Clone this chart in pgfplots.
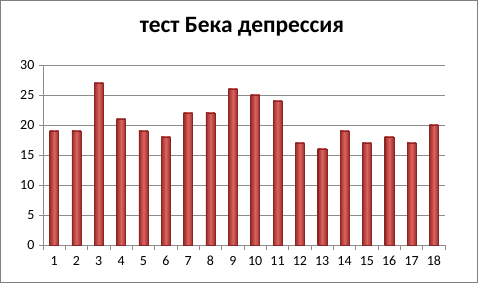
\documentclass[border=0pt]{standalone}
\usepackage{pgfplots}
\pgfplotsset{compat=1.18}
\usepackage{fontspec}
\setmainfont{Carlito}[Numbers=Lining]
\definecolor{baredge}{RGB}{155,44,42}
\definecolor{barmid}{RGB}{220,100,95}
\definecolor{barline}{RGB}{135,38,36}
\begin{document}
\begin{tikzpicture}
\begin{axis}[
  at={(0bp,0bp)}, anchor=south west,
  scale only axis, width=402bp, height=180bp,
  xmin=0.5, xmax=18.5, ymin=0, ymax=30,
  ytick={0,5,...,30}, xtick={1,...,18},
  minor xtick={0.5,1.5,...,18.5},
  ymajorgrids, grid style={black!45, line width=0.8bp},
  axis x line*=bottom, axis y line*=left,
  axis line style={black!45, line width=0.8bp, -},
  tick align=outside,
  major tick length=4bp, minor tick length=5bp,
  major x tick style={draw=none},
  minor x tick style={black!45, line width=0.8bp},
  major y tick style={black!45, line width=0.8bp},
  tick label style={font=\fontsize{14}{16}\selectfont, black},
  xticklabel style={yshift=-4bp, text height=9bp, text depth=1bp},
  yticklabel style={xshift=-1bp},
  /pgf/number format/assume math mode=true,
  ybar, bar width=9bp, bar shift=0pt,
  cyl/.style={draw=barline, line width=0.4bp, left color=baredge, right color=baredge, middle color=barmid},
]
\addplot[cyl] coordinates {(1,19)};
\addplot[cyl] coordinates {(2,19)};
\addplot[cyl] coordinates {(3,27)};
\addplot[cyl] coordinates {(4,21)};
\addplot[cyl] coordinates {(5,19)};
\addplot[cyl] coordinates {(6,18)};
\addplot[cyl] coordinates {(7,22)};
\addplot[cyl] coordinates {(8,22)};
\addplot[cyl] coordinates {(9,26)};
\addplot[cyl] coordinates {(10,25)};
\addplot[cyl] coordinates {(11,24)};
\addplot[cyl] coordinates {(12,17)};
\addplot[cyl] coordinates {(13,16)};
\addplot[cyl] coordinates {(14,19)};
\addplot[cyl] coordinates {(15,17)};
\addplot[cyl] coordinates {(16,18)};
\addplot[cyl] coordinates {(17,17)};
\addplot[cyl] coordinates {(18,20)};
\end{axis}
\draw[black!50, line width=0.8bp] (-42.5bp,-37.5bp) rectangle (434.5bp,244.5bp);
\node[font=\bfseries\fontsize{23.5}{26}\selectfont] at (199bp,218bp) {тест Бека депрессия};
\end{tikzpicture}
\end{document}
